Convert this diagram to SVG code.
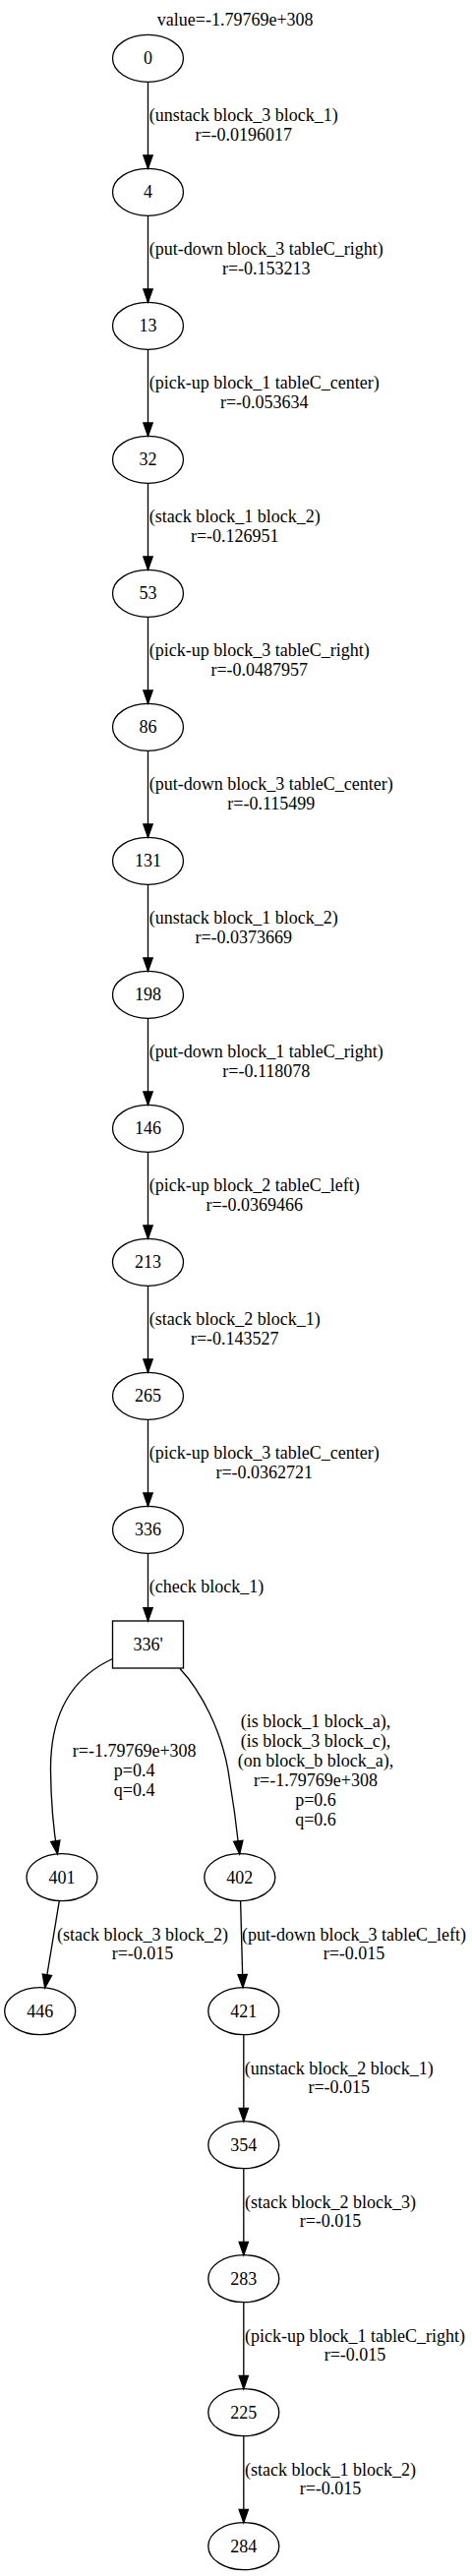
<svg xmlns="http://www.w3.org/2000/svg" width="480" height="2619" viewBox="0 0 480 2619">
<defs>
<style>
text{font-family:"Liberation Serif","Times New Roman",serif;font-size:18px;fill:#000;text-anchor:middle}
.n ellipse,.n rect{fill:none;stroke:#000;stroke-width:1.33}
.e path{fill:none;stroke:#000;stroke-width:1.33;marker-end:url(#arr)}
</style>
<marker id="arr" viewBox="0 -5 14 10" refX="13.33" refY="0" markerWidth="14" markerHeight="10" markerUnits="userSpaceOnUse" orient="auto" overflow="visible">
<path d="M0,-4.67 L13.33,0 L0,4.67 Z" fill="#000" stroke="#000" stroke-width="1.33"/>
</marker>
</defs>
<rect width="480" height="2619" fill="#fff"/>
<text x="239.2" y="26">value=-1.79769e+308</text>

<g id="connectors" class="e">
<path d="M150.5,83.3 V171.3"/>
<path d="M150.5,219.3 V307.3"/>
<path d="M150.5,355.3 V443.3"/>
<path d="M150.5,491.3 V579.3"/>
<path d="M150.5,627.3 V715.3"/>
<path d="M150.5,763.3 V851.3"/>
<path d="M150.5,899.3 V987.3"/>
<path d="M150.5,1035.3 V1123.3"/>
<path d="M150.5,1171.3 V1259.3"/>
<path d="M150.5,1307.3 V1395.3"/>
<path d="M150.5,1443.3 V1531.3"/>
<path d="M150.5,1579.3 V1648"/>
<path d="M114.5,1686.5 C72,1706 51,1745 51.5,1800 C51.8,1830 54,1858 58.5,1885"/>
<path d="M183,1696.5 C205,1720 225,1760 232,1800 C237,1830 241,1860 243.7,1885"/>
<path d="M60.3,1932.6 L45.7,2021"/>
<path d="M244.6,1932.7 L247,2020.8"/>
<path d="M247.8,2068.7 V2156.7"/>
<path d="M247.8,2204.7 V2292.7"/>
<path d="M247.8,2340.7 V2428.7"/>
<path d="M247.8,2476.7 V2564.7"/>

<text x="247.8" y="123.3">(unstack block_3 block_1)</text>
<text x="247.8" y="142.8">r=-0.0196017</text>
<text x="270.8" y="259.3">(put-down block_3 tableC_right)</text>
<text x="270.8" y="278.8">r=-0.153213</text>
<text x="268.8" y="395.3">(pick-up block_1 tableC_center)</text>
<text x="268.8" y="414.8">r=-0.053634</text>
<text x="238.8" y="531.3">(stack block_1 block_2)</text>
<text x="238.8" y="550.8">r=-0.126951</text>
<text x="263.8" y="667.3">(pick-up block_3 tableC_right)</text>
<text x="263.8" y="686.8">r=-0.0487957</text>
<text x="275.8" y="803.3">(put-down block_3 tableC_center)</text>
<text x="275.8" y="822.8">r=-0.115499</text>
<text x="247.8" y="939.3">(unstack block_1 block_2)</text>
<text x="247.8" y="958.8">r=-0.0373669</text>
<text x="270.8" y="1075.3">(put-down block_1 tableC_right)</text>
<text x="270.8" y="1094.8">r=-0.118078</text>
<text x="258.8" y="1211.3">(pick-up block_2 tableC_left)</text>
<text x="258.8" y="1230.8">r=-0.0369466</text>
<text x="238.8" y="1347.3">(stack block_2 block_1)</text>
<text x="238.8" y="1366.8">r=-0.143527</text>
<text x="268.8" y="1483.3">(pick-up block_3 tableC_center)</text>
<text x="268.8" y="1502.8">r=-0.0362721</text>
<text x="210" y="1619.3">(check block_1)</text>
<text x="136.7" y="1786">r=-1.79769e+308</text>
<text x="136.7" y="1806">p=0.4</text>
<text x="136.7" y="1826">q=0.4</text>
<text x="321" y="1756">(is block_1 block_a),</text>
<text x="321" y="1776">(is block_3 block_c),</text>
<text x="321" y="1796">(on block_b block_a),</text>
<text x="321" y="1816">r=-1.79769e+308</text>
<text x="321" y="1836">p=0.6</text>
<text x="321" y="1856">q=0.6</text>
<text x="145" y="1972.7">(stack block_3 block_2)</text>
<text x="145" y="1992.2">r=-0.015</text>
<text x="360" y="1972.7">(put-down block_3 tableC_left)</text>
<text x="360" y="1992.2">r=-0.015</text>
<text x="344.8" y="2108.7">(unstack block_2 block_1)</text>
<text x="344.8" y="2128.2">r=-0.015</text>
<text x="336" y="2244.7">(stack block_2 block_3)</text>
<text x="336" y="2264.2">r=-0.015</text>
<text x="361" y="2380.7">(pick-up block_1 tableC_right)</text>
<text x="361" y="2400.2">r=-0.015</text>
<text x="336" y="2516.7">(stack block_1 block_2)</text>
<text x="336" y="2536.2">r=-0.015</text>
</g>

<g id="n0" class="n"><ellipse cx="150.5" cy="59.3" rx="36" ry="24"/><text x="150.5" y="65.3">0</text></g>
<g id="n4" class="n"><ellipse cx="150.5" cy="195.3" rx="36" ry="24"/><text x="150.5" y="201.3">4</text></g>
<g id="n13" class="n"><ellipse cx="150.5" cy="331.3" rx="36" ry="24"/><text x="150.5" y="337.3">13</text></g>
<g id="n32" class="n"><ellipse cx="150.5" cy="467.3" rx="36" ry="24"/><text x="150.5" y="473.3">32</text></g>
<g id="n53" class="n"><ellipse cx="150.5" cy="603.3" rx="36" ry="24"/><text x="150.5" y="609.3">53</text></g>
<g id="n86" class="n"><ellipse cx="150.5" cy="739.3" rx="36" ry="24"/><text x="150.5" y="745.3">86</text></g>
<g id="n131" class="n"><ellipse cx="150.5" cy="875.3" rx="36" ry="24"/><text x="150.5" y="881.3">131</text></g>
<g id="n198" class="n"><ellipse cx="150.5" cy="1011.3" rx="36" ry="24"/><text x="150.5" y="1017.3">198</text></g>
<g id="n146" class="n"><ellipse cx="150.5" cy="1147.3" rx="36" ry="24"/><text x="150.5" y="1153.3">146</text></g>
<g id="n213" class="n"><ellipse cx="150.5" cy="1283.3" rx="36" ry="24"/><text x="150.5" y="1289.3">213</text></g>
<g id="n265" class="n"><ellipse cx="150.5" cy="1419.3" rx="36" ry="24"/><text x="150.5" y="1425.3">265</text></g>
<g id="n336" class="n"><ellipse cx="150.5" cy="1555.3" rx="36" ry="24"/><text x="150.5" y="1561.3">336</text></g>
<g id="n336p" class="n"><rect x="114.5" y="1648" width="72" height="48"/><text x="150.5" y="1677.8">336'</text></g>
<g id="n401" class="n"><ellipse cx="63" cy="1908.7" rx="36" ry="24"/><text x="63" y="1914.7">401</text></g>
<g id="n402" class="n"><ellipse cx="243.8" cy="1908.7" rx="36" ry="24"/><text x="243.8" y="1914.7">402</text></g>
<g id="n446" class="n"><ellipse cx="40.7" cy="2044.7" rx="36" ry="24"/><text x="40.7" y="2050.7">446</text></g>
<g id="n421" class="n"><ellipse cx="247.8" cy="2044.7" rx="36" ry="24"/><text x="247.8" y="2050.7">421</text></g>
<g id="n354" class="n"><ellipse cx="247.8" cy="2180.7" rx="36" ry="24"/><text x="247.8" y="2186.7">354</text></g>
<g id="n283" class="n"><ellipse cx="247.8" cy="2316.7" rx="36" ry="24"/><text x="247.8" y="2322.7">283</text></g>
<g id="n225" class="n"><ellipse cx="247.8" cy="2452.7" rx="36" ry="24"/><text x="247.8" y="2458.7">225</text></g>
<g id="n284" class="n"><ellipse cx="247.8" cy="2588.7" rx="36" ry="24"/><text x="247.8" y="2594.7">284</text></g>
</svg>
